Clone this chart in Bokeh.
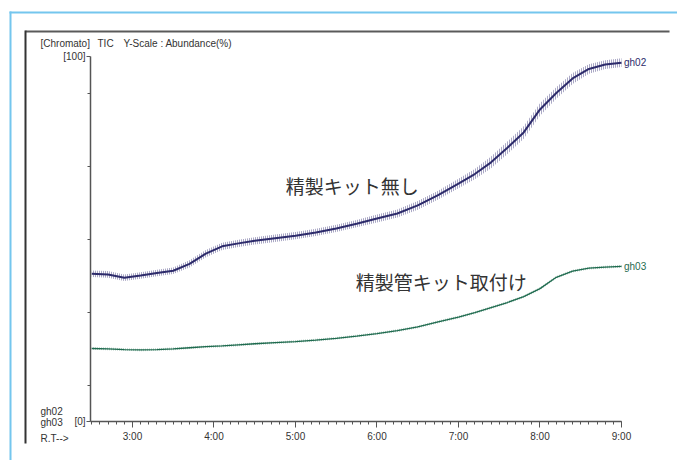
from bokeh.plotting import figure
from bokeh.models import FixedTicker, Label, BoxAnnotation, ColumnDataSource
from bokeh.embed import file_html
from bokeh.resources import INLINE

# ---- data (retention time in minutes, abundance in %) ----
rt = [2.5, 2.7, 2.9, 3.1, 3.3, 3.5, 3.7, 3.9, 4.1, 4.3, 4.5, 4.75, 5.0, 5.25, 5.5,
      5.75, 6.0, 6.25, 6.5, 6.75, 7.0, 7.2, 7.4, 7.6, 7.8, 8.0, 8.2, 8.4, 8.6, 8.8, 9.0]
gh02 = [40.5, 40.3, 39.4, 40.0, 40.7, 41.3, 43.2, 46.0, 48.0, 48.8, 49.5, 50.2, 50.9, 51.8, 52.9,
        54.2, 55.6, 57.0, 59.2, 62.0, 65.2, 67.8, 71.0, 75.0, 79.2, 85.5, 90.0, 94.0, 96.6, 97.8, 98.3]
gh02_noise = [0.9, 0.9, 0.9, 0.9, 0.9, 0.9, 1.0, 1.0, 1.0, 1.0, 1.0, 1.0, 1.0, 1.0, 1.0,
              1.0, 1.1, 1.1, 1.2, 1.2, 1.3, 1.4, 1.6, 1.7, 1.7, 1.7, 1.6, 1.5, 1.3, 1.2, 1.2]
gh03 = [20.0, 19.9, 19.7, 19.6, 19.7, 19.9, 20.2, 20.5, 20.7, 21.0, 21.3, 21.6, 21.9, 22.3, 22.8,
        23.4, 24.1, 24.9, 25.9, 27.3, 28.6, 29.8, 31.2, 32.6, 34.2, 36.4, 39.5, 41.2, 42.0, 42.3, 42.5]
gh03_noise = [0.35] * len(rt)

x_ticks = [3, 4, 5, 6, 7, 8, 9]
x_tick_labels = ["3:00", "4:00", "5:00", "6:00", "7:00", "8:00", "9:00"]
y_ticks = [0, 100]
y_tick_labels = ["[0]", "[100]"]
y_minor = [10, 30, 50, 70, 90]

RT_START, RT_END = 2.485, 9.0
PX_PER_MIN = 81.5
PX_PER_PCT = 3.65
W, H = 677, 460
FRAME_L, FRAME_R = 90, 621   # pixel position of rt start / end
FRAME_T, FRAME_B = 56, 421   # pixel position of 100 % / 0 %

BLUE = "#2d2b6b"
BLUE_BAND = "#55528c"
GREEN = "#1f6b4f"
GREEN_BAND = "#5a937b"
FONT = "Liberation Sans"
JP = "Noto Sans CJK JP"

src = ColumnDataSource(dict(
    rt=rt,
    b=gh02, b_lo=[v - n for v, n in zip(gh02, gh02_noise)], b_hi=[v + n for v, n in zip(gh02, gh02_noise)],
    g=gh03, g_lo=[v - n for v, n in zip(gh03, gh03_noise)], g_hi=[v + n for v, n in zip(gh03, gh03_noise)],
))

x_range = (RT_START - FRAME_L / PX_PER_MIN, RT_END + (W - FRAME_R) / PX_PER_MIN)
y_range = (-(H - FRAME_B) / PX_PER_PCT, 100 + FRAME_T / PX_PER_PCT)

p = figure(width=W, height=H, x_range=x_range, y_range=y_range,
           output_backend="svg", toolbar_location=None, min_border=0)
p.outline_line_color = None
p.xgrid.visible = False
p.ygrid.visible = False
p.background_fill_color = "white"
p.border_fill_color = "white"

# noise bands (vertical spike texture) + centre lines
p.varea(x="rt", y1="b_lo", y2="b_hi", source=src, fill_alpha=0,
        hatch_pattern="|", hatch_color=BLUE_BAND, hatch_scale=2, hatch_weight=1)
p.line(x="rt", y="b", source=src, line_color=BLUE, line_width=2)
p.varea(x="rt", y1="g_lo", y2="g_hi", source=src, fill_alpha=0,
        hatch_pattern="|", hatch_color=GREEN_BAND, hatch_scale=2, hatch_weight=1)
p.line(x="rt", y="g", source=src, line_color=GREEN, line_width=1.3)

# axes (fixed inside the frame so texts outside the data area can be drawn)
xa = p.xaxis[0]
xa.fixed_location = 0
xa.bounds = (RT_START, RT_END)
xa.ticker = FixedTicker(ticks=x_ticks, minor_ticks=[round(2.5 + 0.1 * i, 2) for i in range(66)])
xa.major_label_overrides = {t: l for t, l in zip(x_ticks, x_tick_labels)}
xa.axis_line_color = "#555555"
xa.axis_line_width = 1.5
xa.major_tick_line_color = "#555555"
xa.minor_tick_line_color = "#555555"
xa.major_tick_in = 0
xa.major_tick_out = 6
xa.minor_tick_in = 0
xa.minor_tick_out = 3
xa.major_label_standoff = 3
xa.major_label_text_font = FONT
xa.major_label_text_font_size = "10px"
xa.major_label_text_color = "#333333"

ya = p.yaxis[0]
ya.fixed_location = RT_START
ya.bounds = (0, 100)
ya.ticker = FixedTicker(ticks=y_ticks, minor_ticks=y_minor)
ya.major_label_overrides = {t: l for t, l in zip(y_ticks, y_tick_labels)}
ya.axis_line_color = "#555555"
ya.axis_line_width = 1.5
ya.major_tick_line_color = "#555555"
ya.minor_tick_line_color = "#555555"
ya.major_tick_in = 0
ya.major_tick_out = 4
ya.minor_tick_in = 0
ya.minor_tick_out = 3
ya.major_label_standoff = 1
ya.major_label_text_font = FONT
ya.major_label_text_font_size = "10px"
ya.major_label_text_color = "#333333"

# frame decorations (pixel positions converted to data units)
def px_x(px):
    return x_range[0] + px / PX_PER_MIN

def px_y(py):
    return y_range[1] - py / PX_PER_PCT

def bar(l, r, t, b, color):
    p.add_layout(BoxAnnotation(left=px_x(l), right=px_x(r), top=px_y(t), bottom=px_y(b),
                               fill_color=color, fill_alpha=1, line_alpha=0, level="overlay"))

bar(9, 677, 11, 13, "#74c6ee")
bar(9, 11, 11, 460, "#74c6ee")
bar(25, 669, 30, 32, "#5a5a5a")
bar(24, 26, 30, 443, "#333333")

# texts
def lab(x, y, text, color="#333333", size="10px", font=FONT, align="left"):
    p.add_layout(Label(x=x, y=y, text=text, text_color=color,
                       text_font=font, text_font_size=size, text_align=align,
                       text_baseline="middle"))

lab(px_x(40), px_y(43), "[Chromato]")
lab(px_x(97), px_y(43), "TIC")
lab(px_x(123), px_y(43), "Y-Scale : Abundance(%)")
lab(px_x(40), px_y(411), "gh02")
lab(px_x(40), px_y(422), "gh03")
lab(px_x(40), px_y(438), "R.T-->")
lab(9.03, 98.3, "gh02", color=BLUE)
lab(9.03, 42.5, "gh03", color=GREEN)
lab(4.88, 64.7, "精製キット無し", size="19px", font=JP)
lab(5.74, 38.4, "精製管キット取付け", size="19px", font=JP)

open("out.html", "w").write(file_html(p, INLINE))
